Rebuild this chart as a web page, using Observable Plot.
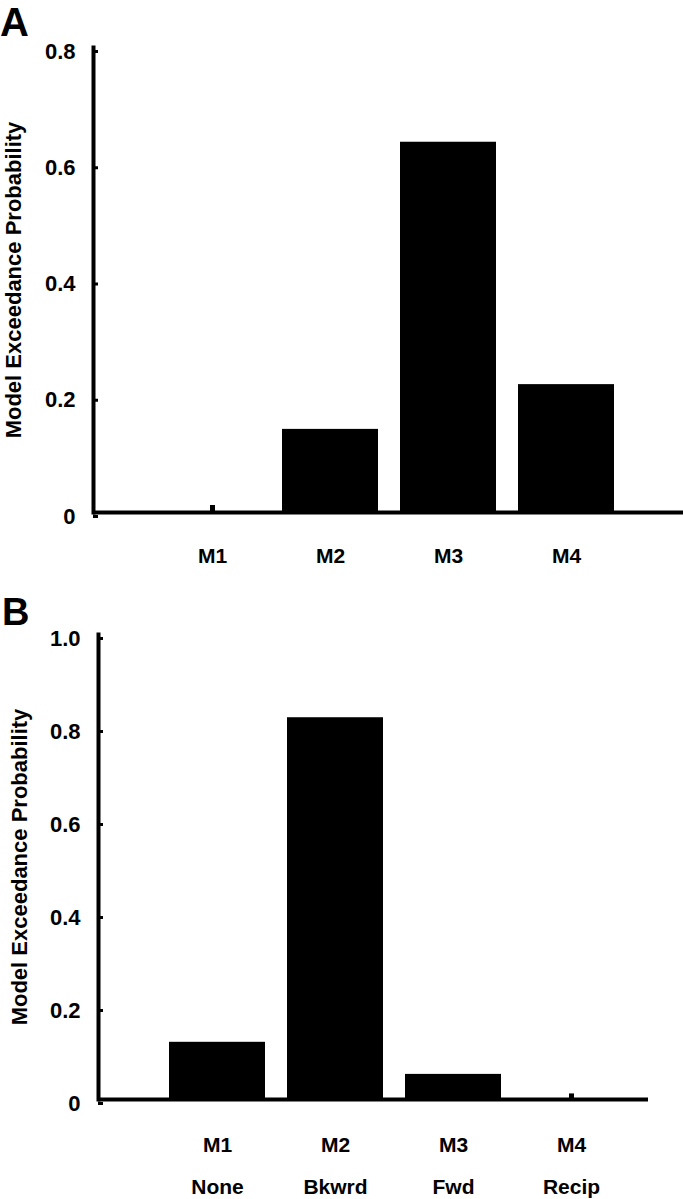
<!DOCTYPE html>
<html>
<head>
<meta charset="utf-8">
<script src="https://cdn.jsdelivr.net/npm/d3@7"></script>
<script src="https://cdn.jsdelivr.net/npm/@observablehq/plot@0.6"></script>
<style>
  html, body { margin: 0; padding: 0; background: #fff; }
  #wrap { position: relative; width: 683px; height: 1199px; }
  .panel-letter { position: absolute; font-family: "Liberation Sans", Arial, sans-serif; font-weight: bold; line-height: 1; color: #000; }
  #chartA, #chartB { position: absolute; left: 0; }
  #chartA { top: 0; }
  #chartB { top: 580px; }
  [aria-label="y-axis tick label"] { font-size: 22px; }
  [aria-label="x-axis tick label"] { font-size: 21px; }
  [aria-label="y-axis label"] { font-size: 22px; }
</style>
</head>
<body>
<div id="wrap">
  <div id="chartA"></div>
  <div id="chartB"></div>
  <div class="panel-letter" style="left:0px; top:2px; font-size:40px;">A</div>
  <div class="panel-letter" style="left:2px; top:593px; font-size:38px;">B</div>
</div>
<script>
// Panel A data
const modelsA = ["M1", "M2", "M3", "M4"];
const probsA = [0.012, 0.143, 0.637, 0.22];
const yTicksA = [0, 0.2, 0.4, 0.6, 0.8];
const yTickLabelsA = ["0", "0.2", "0.4", "0.6", "0.8"];

// Panel B data
const modelsB = ["M1", "M2", "M3", "M4"];
const connectionsB = ["None", "Bkwrd", "Fwd", "Recip"];
const probsB = [0.123, 0.821, 0.054, 0.012];
const yTicksB = [0, 0.2, 0.4, 0.6, 0.8, 1.0];
const yTickLabelsB = ["0", "0.2", "0.4", "0.6", "0.8", "1.0"];

const yTitle = "Model Exceedance Probability";

const dataA = modelsA.map((m, i) => ({model: m, p: probsA[i]}));
const dataB = modelsB.map((m, i) => ({model: m, conn: connectionsB[i], p: probsB[i]}));

const baseStyle = {fontFamily: '"Liberation Sans", Arial, sans-serif', fontWeight: "bold", color: "#000", background: "#fff", overflow: "visible"};

function panel({data, width, height, marginLeft, marginRight, marginTop, marginBottom, xRange, yDomain, yTicks, yLabels, labelOffset, xPad, secondRow, secondPad}) {
  const marks = [
    Plot.barY(data.filter(d => d.p >= 0.02), {x: "model", y: "p", fill: "black"}),
    Plot.ruleX(data.filter(d => d.p < 0.02), {x: "model", y1: 0, y2: "p", stroke: "black", strokeWidth: 5}),
    Plot.frame({anchor: "left", stroke: "black", strokeWidth: 4}),
    Plot.ruleY([0], {stroke: "black", strokeWidth: 4}),
    Plot.axisY(yTicks, {
      tickSize: -5, tickPadding: 23, strokeWidth: 3, dy: 4,
      tickFormat: d => yLabels[yTicks.indexOf(d)],
      label: yTitle, labelAnchor: "center", labelOffset, labelArrow: "none"
    }),
    Plot.axisX({tickSize: 0, tickPadding: xPad, label: null})
  ];
  if (secondRow) {
    marks.push(Plot.axisX({tickSize: 0, tickPadding: secondPad, tickFormat: d => secondRow[data.findIndex(r => r.model === d)], label: null}));
  }
  return Plot.plot({
    width, height, marginLeft, marginRight, marginTop, marginBottom,
    style: baseStyle,
    x: {type: "band", domain: data.map(d => d.model), range: xRange, paddingInner: 0.19, paddingOuter: 0},
    y: {domain: yDomain},
    marks
  });
}

document.getElementById("chartA").append(panel({
  data: dataA, width: 683, height: 580,
  marginLeft: 93, marginRight: 0, marginTop: 47, marginBottom: 68,
  xRange: [164, 614], yDomain: [0, 0.8], yTicks: yTicksA, yLabels: yTickLabelsA,
  labelOffset: 88, xPad: 36
}));

document.getElementById("chartB").append(panel({
  data: dataB, width: 683, height: 619,
  marginLeft: 98, marginRight: 35, marginTop: 54, marginBottom: 100,
  xRange: [169, 619], yDomain: [0, 1.0], yTicks: yTicksB, yLabels: yTickLabelsB,
  labelOffset: 87, xPad: 38, secondRow: connectionsB, secondPad: 80
}));
</script>
</body>
</html>
